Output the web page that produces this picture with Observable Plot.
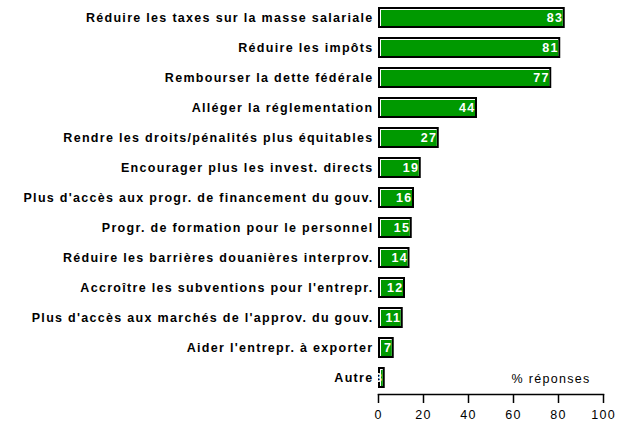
<!DOCTYPE html>
<html>
<head>
<meta charset="utf-8">
<script src="https://cdn.jsdelivr.net/npm/d3@7"></script>
<script src="https://cdn.jsdelivr.net/npm/@observablehq/plot@0.6"></script>
<style>
  html, body { margin: 0; padding: 0; background: white; }
</style>
</head>
<body>
<div id="chart"></div>
<script>
const categories = [
  "Réduire les taxes sur la masse salariale",
  "Réduire les impôts",
  "Rembourser la dette fédérale",
  "Alléger la réglementation",
  "Rendre les droits/pénalités plus équitables",
  "Encourager plus les invest. directs",
  "Plus d'accès aux progr. de financement du gouv.",
  "Progr. de formation pour le personnel",
  "Réduire les barrières douanières interprov.",
  "Accroître les subventions pour l'entrepr.",
  "Plus d'accès aux marchés de l'approv. du gouv.",
  "Aider l'entrepr. à exporter",
  "Autre"
];
const values = [83, 81, 77, 44, 27, 19, 16, 15, 14, 12, 11, 7, 3];
const xTicks = [0, 20, 40, 60, 80, 100];
const axisTitle = "% réponses";

const data = categories.map((c, i) => ({cat: c, value: values[i]}));

const chart = Plot.plot({
  width: 625,
  height: 430,
  marginLeft: 378,
  marginRight: 22,
  marginTop: 0,
  marginBottom: 36,
  style: {fontFamily: "'Liberation Sans', Arial, sans-serif", fontSize: "12.5px", color: "black", background: "white", letterSpacing: "1.3px"},
  x: {domain: [0, 100]},
  y: {domain: categories, paddingInner: 0.3, paddingOuter: 0.16},
  marks: [
    Plot.frame({anchor: "bottom", stroke: "black", strokeWidth: 1.5}),
    Plot.axisX({ticks: xTicks, tickSize: 9, tickPadding: 7, label: null, fontSize: 12.5, strokeWidth: 1.5}),
    Plot.axisY({tickSize: 0, tickPadding: 5, label: null, fontWeight: "bold", fontSize: 12.5}),
    Plot.barX(data, {x: "value", y: "cat", fill: "black"}),
    Plot.barX(data, {x: "value", y: "cat", fill: "white", inset: 2}),
    Plot.barX(data, {x: "value", y: "cat", fill: "#009900", insetTop: 3, insetLeft: 3, insetRight: 2, insetBottom: 2}),
    Plot.text(data, {x: "value", y: "cat", text: d => String(d.value), textAnchor: "end", dx: -2, fill: "white", fontWeight: "bold", fontSize: 12.5}),
    Plot.text([axisTitle], {frameAnchor: "bottom-right", text: d => d, dx: -13, dy: -16, textAnchor: "end", lineAnchor: "middle", fontSize: 12.5})
  ]
});
document.getElementById("chart").appendChild(chart);
</script>
</body>
</html>
